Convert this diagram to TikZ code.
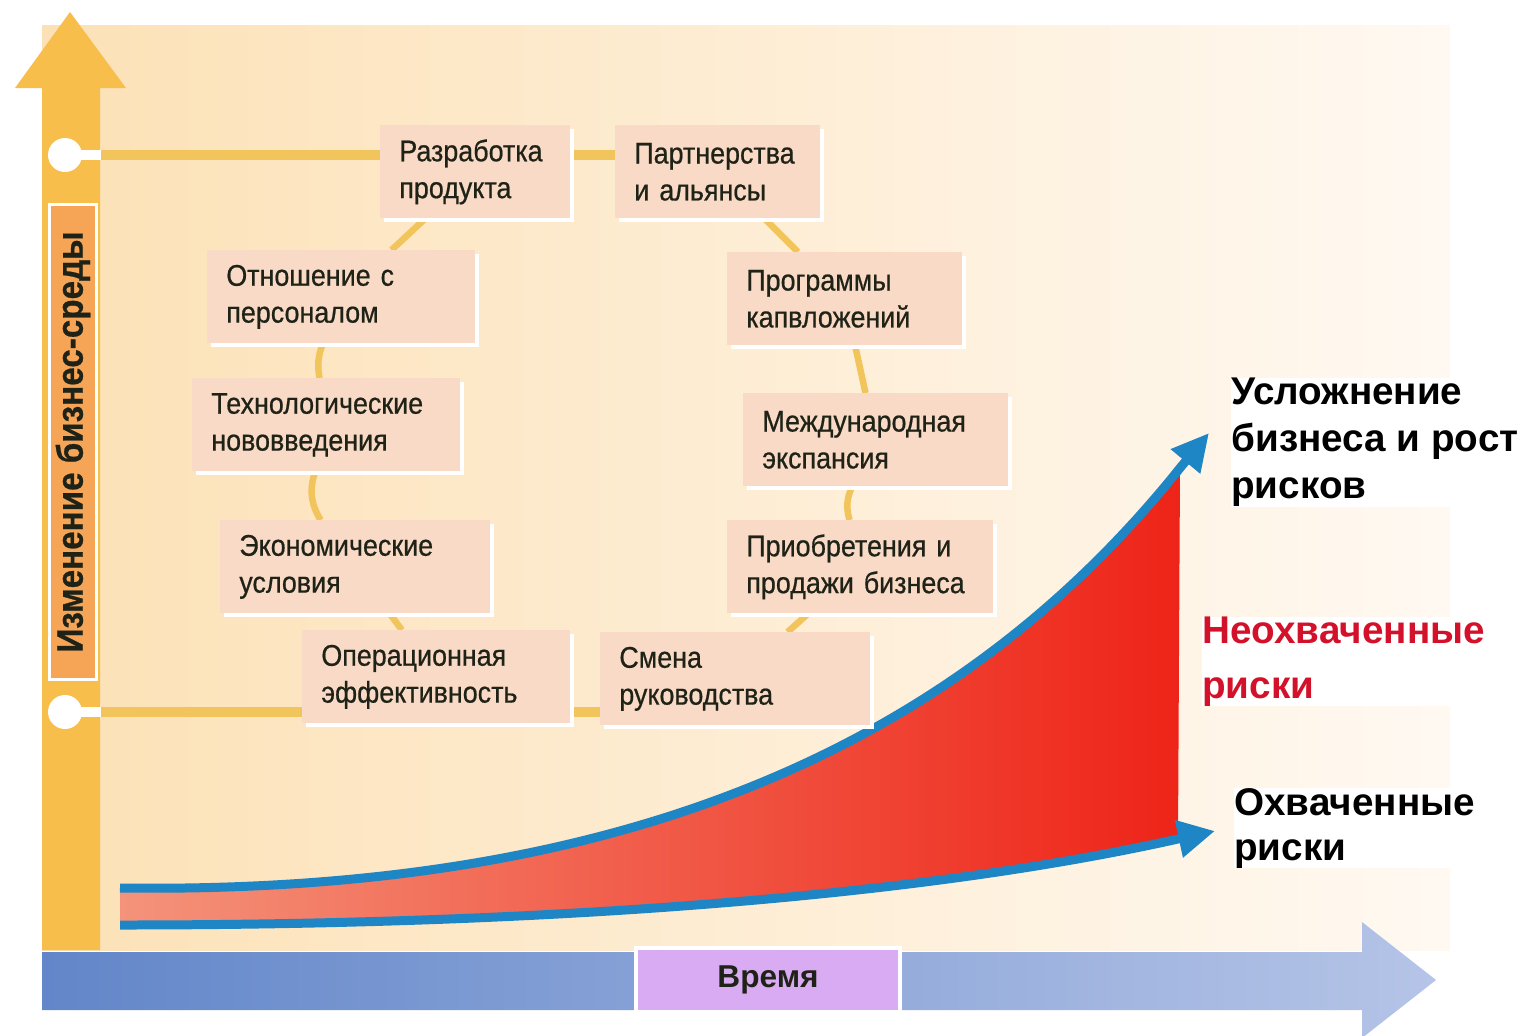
\documentclass[tikz,border=0pt]{standalone}
\usepackage{fontspec}
\setmainfont{Liberation Sans}
\newfontfamily\boxfont[FakeStretch=0.9,FakeBold=0.6]{Liberation Sans}
\usetikzlibrary{arrows.meta,shadows}
\definecolor{ink}{HTML}{1F2216}
\definecolor{bgleft}{HTML}{FCE1B6}
\definecolor{bgright}{HTML}{FFF9F2}
\definecolor{gold}{HTML}{F8BE4B}
\definecolor{axislabel}{HTML}{F6A557}
\definecolor{ringline}{HTML}{F1C45C}
\definecolor{boxfill}{HTML}{F9DAC6}
\definecolor{riskleft}{HTML}{F4937A}
\definecolor{riskmid}{HTML}{F1603F}
\definecolor{riskright}{HTML}{EE2418}
\definecolor{trendblue}{HTML}{1E86C5}
\definecolor{timeleft}{HTML}{6286C9}
\definecolor{timeright}{HTML}{B5C4E7}
\definecolor{lilac}{HTML}{D8ABF3}
\definecolor{riskred}{HTML}{D4112A}
\pgfdeclarelayer{back}
\pgfdeclarelayer{links}
\pgfsetlayers{back,links,main}
\tikzset{
  factor/.style={
    fill=boxfill, anchor=north west, text width=#1, minimum height=1.86cm,
    inner xsep=0.38cm, align=left, text=ink,
    font=\boxfont\fontsize{17}{21}\selectfont,
    drop shadow={shadow xshift=0.07cm, shadow yshift=-0.07cm, fill=white, opacity=1}},
  ring/.style={draw=ringline, line width=0.13cm},
  level/.style={draw=ringline, line width=0.2cm},
  neck/.style={draw=white, line width=0.2cm},
  dot/.style={circle, fill=white, minimum size=0.68cm, inner sep=0pt},
  envlabel/.style={rotate=90, fill=axislabel, draw=white, line width=0.05cm,
    minimum width=9.5cm, minimum height=0.94cm, text=ink,
    font=\boxfont\bfseries\fontsize{21}{24}\selectfont},
  timebox/.style={fill=lilac, draw=white, line width=0.08cm, minimum width=5.3cm,
    minimum height=1.28cm, text=ink, font=\bfseries\fontsize{18}{20}\selectfont},
  trend/.style={draw=trendblue, line width=0.18cm, -{Triangle[length=0.74cm,width=0.72cm]}},
  note/.style={anchor=north west, align=left, fill=white, inner sep=0pt,
    font=\bfseries\fontsize{22}{26.7}\selectfont},
}
\begin{document}
\begin{tikzpicture}[x=0.02cm, y=-0.02cm]
  \useasboundingbox (0,0) rectangle (1528,1035);
  \begin{pgfonlayer}{back}
    \fill[white] (0,0) rectangle (1528,1035);
    \shade[left color=bgleft, right color=bgright] (42,25) rectangle (1450,950);
    \fill[gold] (42,950) -- (42,88) -- (15,88) -- (70,12) -- (126,88) -- (100,88) -- (100,950) -- cycle;
  \end{pgfonlayer}

  \node[envlabel] (env) at (73,442) {Изменение бизнес-среды};
  \node[dot] (topdot) at (65,155) {};
  \node[dot] (botdot) at (65,712) {};

  \shade[left color=timeleft, right color=timeright]
    (42,952) -- (1362,952) -- (1362,922) -- (1436,980) -- (1362,1038) -- (1362,1010) -- (42,1010) -- cycle;
  \node[timebox] (time) at (768,980) {Время};

  \coordinate (u0) at (120,888);
  \coordinate (u1) at (1180,468);
  \coordinate (utip) at (1209,433);
  \coordinate (l0) at (120,925);
  \coordinate (l1) at (1178,839);
  \coordinate (ltip) at (1215,831);
  \shade[left color=riskleft, middle color=riskmid, right color=riskright]
    (u0) .. controls (650,895) and (970,730) .. (u1) -- (l1)
    .. controls (950,890) and (600,925) .. (l0) -- cycle;
  \draw[trend] (u0) .. controls (650,895) and (970,730) .. (u1) -- (utip);
  \draw[trend] (l0) .. controls (600,925) and (950,890) .. (l1) -- (ltip);

  \node[factor=3.04cm] (prod) at (380,125) {Разработка\\продукта};
  \node[factor=3.34cm] (partner) at (615,125) {Партнерства\\и альянсы};
  \node[factor=4.6cm] (staff) at (207,250) {Отношение с\\персоналом};
  \node[factor=3.94cm] (capex) at (727,252) {Программы\\капвложений};
  \node[factor=4.6cm] (tech) at (192,378) {Технологические\\нововведения};
  \node[factor=4.54cm] (intl) at (743,393) {Международная\\экспансия};
  \node[factor=4.64cm] (econ) at (220,520) {Экономические\\условия};
  \node[factor=4.56cm] (acq) at (727,520) {Приобретения и\\продажи бизнеса};
  \node[factor=4.6cm] (oper) at (302,630) {Операционная\\эффективность};
  \node[factor=4.64cm] (change) at (600,632) {Смена\\руководства};

  \begin{pgfonlayer}{links}
    \draw[level] (topdot) -- (topdot -| partner.west);
    \draw[level] (botdot) -- (botdot -| change.west);
    \draw[neck] (topdot.center) -- ++(36,0);
    \draw[neck] (botdot.center) -- ++(36,0);
    \draw[ring] (prod) -- (staff);
    \draw[ring] (staff) to[bend right=15] (tech);
    \draw[ring] (tech) to[bend right=25] (econ);
    \draw[ring] (econ) -- (oper);
    \draw[ring] (change) -- (acq);
    \draw[ring] (acq) to[bend left=20] (intl);
    \draw[ring] (intl) -- (capex);
    \draw[ring] (capex) -- (partner);
  \end{pgfonlayer}

  \node[note] (grow) at (1231,378) {Усложнение\\бизнеса и рост\\рисков};
  \node[note, text=riskred, font=\bfseries\fontsize{22}{31}\selectfont] (uncov) at (1202,617) {Неохваченные\\риски};
  \node[note, font=\bfseries\fontsize{22}{25.5}\selectfont] (cov) at (1234,788) {Охваченные\\риски};
\end{tikzpicture}
\end{document}
